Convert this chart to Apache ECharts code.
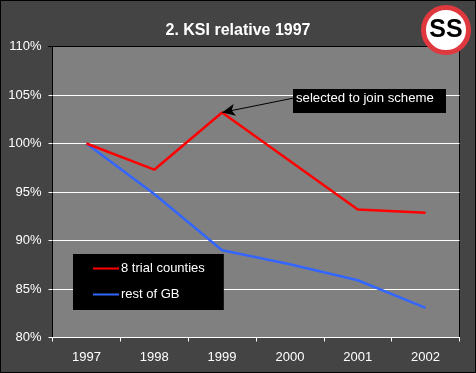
<!DOCTYPE html>
<html><head><meta charset="utf-8">
<style>html,body{margin:0;padding:0;background:#444444}#c{width:476px;height:373px}</style>
<script src="https://cdn.jsdelivr.net/npm/echarts@6/dist/echarts.min.js"></script>
</head><body><div id="c"></div>
<script>
const years = ['1997','1998','1999','2000','2001','2002'];
const trialCounties = [100, 97.3, 103.2, 98.2, 93.2, 92.85];
const restOfGB = [100, 94.8, 89.0, 87.55, 85.9, 83.05];
const FONT = '"Liberation Sans", Arial, sans-serif';
const chart = echarts.init(document.getElementById('c'), null, {renderer:'canvas'});
chart.setOption({
  animation:false,
  backgroundColor:'#444444',
  title:{text:'2. KSI relative 1997',left:'center',top:18,
    textStyle:{color:'#fff',fontFamily:FONT,fontSize:16,fontWeight:'bold'}},
  grid:{left:52.5,top:46.5,width:407,height:291,show:true,backgroundColor:'#808080',borderColor:'#000',borderWidth:1},
  legend:{show:true,left:73,top:254,orient:'vertical',backgroundColor:'#000',borderRadius:0,
    padding:[8,19,9,20],itemGap:13,itemWidth:26,itemHeight:12,icon:'path://M0,0H26V2H0Z',
    textStyle:{color:'#fff',fontFamily:FONT,fontSize:13,padding:[0,0,0,-3]},
    data:['8 trial counties','rest of GB']},
  xAxis:{type:'category',data:years,boundaryGap:true,
    axisLine:{onZero:false,lineStyle:{color:'#fff',width:1}},
    axisTick:{show:true,alignWithLabel:false,length:4,lineStyle:{color:'#fff'}},
    axisLabel:{color:'#fff',fontFamily:FONT,fontSize:13,margin:13},splitLine:{show:false}},
  yAxis:{type:'value',min:80,max:110,interval:5,
    axisLine:{show:true,lineStyle:{color:'#000',width:1}},
    axisTick:{show:true,length:4,lineStyle:{color:'#fff'}},
    axisLabel:{color:'#fff',fontFamily:FONT,fontSize:13,margin:11,formatter:'{value}%'},
    splitLine:{show:true,showMinLine:false,showMaxLine:false,lineStyle:{color:'#fff',width:1}}},
  series:[
    {name:'8 trial counties',type:'line',data:trialCounties,symbol:'none',
     lineStyle:{color:'#ff0000',width:2.5},itemStyle:{color:'#ff0000'},z:3,
     markLine:{silent:true,animation:false,symbol:['arrow','none'],symbolSize:[9,13],label:{show:false},
       lineStyle:{color:'#000',width:1,type:'solid'},
       data:[[{coord:['1999',103.2]},{x:294,y:98}]]}},
    {name:'rest of GB',type:'line',data:restOfGB,symbol:'none',
     lineStyle:{color:'#3366ff',width:2.5},itemStyle:{color:'#3366ff'},z:2}
  ],
  graphic:[
    {type:'rect',silent:true,z:1000,shape:{x:0.5,y:0.5,width:475,height:372},style:{fill:'none',stroke:'#000',lineWidth:1}},
    {type:'line',silent:true,z:50,shape:{x1:48,y1:46.5,x2:53,y2:46.5},style:{stroke:'#000',lineWidth:1}},
    {type:'rect',silent:true,z:100,shape:{x:293,y:89,width:153,height:24},style:{fill:'#000'}},
    {type:'text',silent:true,z:101,x:296,y:92,style:{text:'selected to join scheme',fill:'#fff',font:'13.2px '+FONT}},
    {type:'circle',silent:true,z:200,shape:{cx:446,cy:30,r:22.5},style:{fill:'#fff',stroke:'#e0383f',lineWidth:5}},
    {type:'text',silent:true,z:201,x:446,y:30,style:{text:'SS',fill:'#000',font:'bold 25px '+FONT,align:'center',verticalAlign:'middle'}}
  ]
});
</script></body></html>
